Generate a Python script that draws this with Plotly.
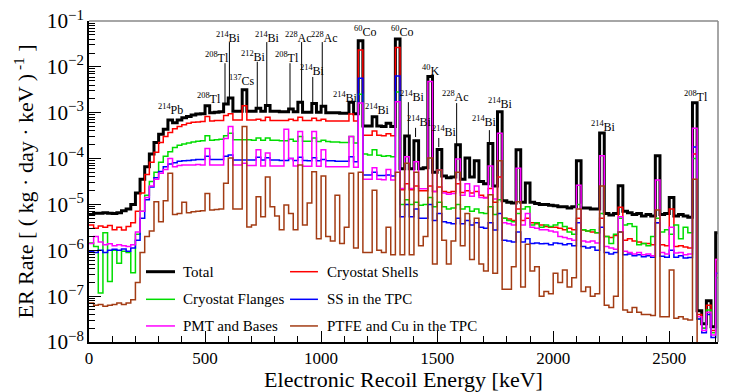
import plotly.graph_objects as go

# 20 keV bins from 0 to 2720 keV
BIN_WIDTH = 20
bin_edges = list(range(0, 2720 + BIN_WIDTH, BIN_WIDTH))

# log10 of ER rate per bin (10 bins = 200 keV per row)
total_log = [
    -5.22, -5.19, -5.19, -5.18, -5.19, -5.20, -5.18, -5.14, -5.10, -5.00,
    -4.75, -4.45, -4.18, -3.90, -3.65, -3.47, -3.36, -3.16, -3.22, -3.16,
    -3.11, -3.08, -3.05, -3.03, -3.02, -2.85, -3.00, -2.99, -2.98, -2.81,
    -2.68, -2.97, -2.97, -2.50, -2.97, -2.97, -2.90, -2.97, -2.84, -2.97,
    -2.97, -2.98, -2.98, -2.92, -2.98, -2.77, -2.99, -2.99, -2.80, -2.99,
    -2.86, -3.00, -3.00, -3.00, -3.01, -3.01, -2.77, -3.02, -1.43, -3.29,
    -3.29, -3.09, -3.29, -3.30, -3.23, -3.30, -1.39, -4.22, -3.51, -4.22,
    -3.61, -4.22, -4.20, -2.21, -4.30, -3.80, -4.38, -4.42, -4.40, -3.70,
    -4.45, -3.99, -4.40, -4.05, -4.50, -4.55, -3.67, -4.60, -2.98, -4.92,
    -4.95, -4.97, -3.81, -4.95, -4.53, -4.95, -4.98, -5.00, -5.00, -5.02,
    -5.03, -5.05, -5.05, -5.08, -5.05, -4.05, -5.08, -5.08, -5.10, -5.10,
    -3.44, -5.20, -5.23, -5.20, -4.59, -5.15, -5.18, -5.22, -5.20, -5.25,
    -5.22, -5.25, -3.94, -5.22, -5.20, -4.85, -5.25, -5.22, -5.25, -5.28,
    -2.78, -7.32, -7.60, -7.10, -7.67, -5.62,
]

shells_log = [
    -5.45, -5.52, -5.47, -5.50, -5.46, -5.55, -5.50, -5.56, -5.48, -5.40,
    -5.15, -4.75, -4.35, -4.08, -3.86, -3.65, -3.52, -3.43, -3.35, -3.30,
    -3.26, -3.23, -3.21, -3.20, -3.19, -3.08, -3.18, -3.17, -3.17, -3.06,
    -3.02, -3.16, -3.16, -2.85, -3.16, -3.16, -3.14, -3.17, -3.10, -3.17,
    -3.17, -3.17, -3.17, -3.14, -3.17, -3.10, -3.17, -3.17, -3.12, -3.17,
    -3.14, -3.18, -3.18, -3.18, -3.18, -3.18, -3.03, -3.18, -1.63, -3.49,
    -3.49, -3.40, -3.49, -3.50, -3.46, -3.50, -1.58, -4.68, -4.55, -4.68,
    -4.60, -4.70, -4.70, -4.60, -4.72, -4.62, -4.72, -4.74, -4.72, -4.55,
    -4.74, -4.70, -4.75, -4.72, -4.80, -4.85, -4.65, -4.95, -4.40, -5.30,
    -5.32, -5.35, -5.10, -5.35, -5.30, -5.40, -5.42, -5.45, -5.48, -5.50,
    -5.50, -5.52, -5.55, -5.52, -5.55, -5.30, -5.56, -5.58, -5.60, -5.62,
    -5.30, -5.70, -5.72, -5.68, -5.06, -5.78, -5.75, -5.80, -5.82, -5.85,
    -5.85, -5.88, -5.40, -5.88, -5.90, -5.10, -5.92, -5.90, -5.93, -5.95,
    -3.90, -7.40, -7.70, -7.20, -7.75, -6.20,
]

flanges_log = [
    -5.84, -5.92, -6.93, -5.62, -6.68, -6.00, -6.28, -6.02, -6.05, -6.49,
    -5.65, -5.15, -4.80, -4.50, -4.30, -4.08, -3.95, -3.85, -3.76, -3.71,
    -3.68, -3.66, -3.64, -3.62, -3.61, -3.50, -3.60, -3.59, -3.58, -3.50,
    -3.45, -3.59, -3.59, -3.59, -3.59, -3.60, -3.55, -3.60, -3.55, -3.60,
    -3.60, -3.61, -3.61, -3.58, -3.62, -3.52, -3.62, -3.62, -3.55, -3.63,
    -3.60, -3.63, -3.64, -3.64, -3.65, -3.65, -3.52, -3.66, -2.60, -3.90,
    -3.92, -3.81, -3.93, -3.95, -3.94, -3.96, -2.55, -5.00, -4.90, -5.00,
    -4.95, -5.02, -5.00, -4.85, -5.05, -4.95, -5.05, -5.10, -5.08, -5.00,
    -5.10, -5.05, -5.15, -5.10, -5.18, -5.20, -5.05, -5.22, -4.90, -5.30,
    -5.35, -5.38, -5.20, -5.10, -5.05, -5.45, -5.40, -5.50, -5.45, -5.48,
    -5.45, -5.40, -5.48, -5.60, -5.65, -5.00, -5.55, -5.58, -5.55, -5.62,
    -5.20, -5.70, -5.85, -5.65, -5.30, -5.45, -5.42, -5.48, -5.88, -5.85,
    -5.90, -5.70, -5.30, -5.60, -5.55, -5.65, -5.45, -5.75, -5.50, -5.62,
    -4.00, -7.50, -7.70, -7.30, -7.80, -6.60,
]

ss_tpc_log = [
    -6.03, -6.05, -6.00, -6.05, -6.00, -5.98, -6.00, -5.97, -6.02, -5.95,
    -5.78, -5.30, -4.90, -4.62, -4.42, -4.28, -4.18, -4.12, -4.09, -4.06,
    -4.05, -4.04, -4.03, -4.02, -4.02, -3.95, -4.02, -4.02, -4.02, -3.95,
    -3.92, -4.03, -4.03, -4.03, -4.03, -4.03, -3.97, -4.03, -3.98, -4.03,
    -4.03, -4.04, -4.04, -4.00, -4.04, -3.97, -4.04, -4.05, -3.98, -4.05,
    -4.02, -4.05, -4.05, -4.06, -4.06, -4.06, -3.96, -4.07, -2.25, -4.36,
    -4.36, -4.30, -4.37, -4.37, -4.36, -4.38, -2.20, -5.27, -5.00, -5.27,
    -5.10, -5.30, -5.30, -5.00, -5.35, -5.20, -5.38, -5.40, -5.42, -5.30,
    -5.42, -5.35, -5.45, -5.40, -5.50, -5.52, -5.40, -5.56, -5.20, -5.78,
    -5.80, -5.82, -5.60, -5.82, -5.75, -5.85, -5.84, -5.86, -5.85, -5.88,
    -5.84, -5.85, -5.88, -5.86, -5.90, -5.40, -5.92, -5.95, -5.93, -6.00,
    -5.50, -6.05, -6.08, -6.05, -5.60, -6.10, -6.08, -6.12, -6.10, -6.14,
    -6.12, -6.15, -5.40, -6.13, -6.15, -6.00, -6.15, -6.12, -6.17, -6.16,
    -3.75, -7.50, -7.80, -7.40, -7.90, -6.50,
]

pmt_log = [
    -5.85, -5.70, -5.82, -5.88, -5.86, -5.90, -5.88, -5.90, -5.92, -5.88,
    -5.60, -5.15, -4.85, -4.60, -4.45, -4.32, -4.24, -4.00, -4.18, -4.15,
    -4.14, -4.14, -4.14, -4.13, -4.14, -3.78, -4.14, -4.14, -4.14, -3.56,
    -3.30, -4.14, -4.14, -4.10, -4.15, -4.15, -3.81, -4.16, -3.88, -4.16,
    -4.16, -4.16, -3.36, -4.00, -4.16, -3.41, -4.17, -4.17, -3.41, -4.17,
    -3.81, -4.18, -4.18, -4.18, -4.18, -4.18, -3.52, -4.19, -2.79, -4.45,
    -4.45, -4.20, -4.45, -4.46, -4.24, -4.47, -2.76, -4.65, -3.96, -4.65,
    -4.07, -4.66, -4.66, -2.32, -4.72, -4.25, -4.75, -4.78, -4.76, -4.01,
    -4.80, -4.55, -4.82, -4.60, -4.85, -4.86, -4.16, -4.88, -3.45, -5.40,
    -5.42, -5.45, -4.21, -5.45, -5.20, -5.50, -5.52, -5.55, -5.55, -5.58,
    -5.60, -5.70, -5.72, -5.75, -5.78, -4.58, -5.80, -5.82, -5.80, -5.84,
    -3.94, -5.92, -5.95, -5.98, -5.27, -6.02, -6.05, -6.08, -6.05, -6.10,
    -6.08, -6.12, -4.47, -6.05, -6.08, -5.50, -6.06, -6.05, -6.10, -6.08,
    -3.34, -7.45, -7.75, -7.35, -7.85, -6.20,
]

ptfe_cu_log = [
    -7.15, -7.20, -7.18, -7.22, -7.20, -7.18, -7.15, -7.18, -7.15, -7.08,
    -6.70, -6.05, -5.70, -5.58, -4.94, -5.38, -4.92, -4.32, -5.22, -5.20,
    -4.95, -5.18, -5.16, -5.15, -5.14, -4.76, -5.12, -5.11, -5.10, -4.54,
    -3.99, -5.10, -5.10, -3.30, -5.49, -5.45, -4.83, -5.27, -4.40, -5.05,
    -5.25, -5.55, -5.01, -5.20, -5.55, -4.14, -5.45, -4.97, -4.29, -5.75,
    -4.38, -5.70, -5.80, -4.80, -5.85, -5.50, -4.32, -5.95, -4.30, -6.05,
    -6.05, -4.69, -6.00, -6.05, -5.50, -6.10, -4.30, -6.10, -4.10, -6.10,
    -4.30, -5.90, -5.70, -3.99, -6.30, -4.25, -5.78, -6.30, -5.80, -4.30,
    -5.90, -5.20, -6.20, -5.30, -6.30, -6.45, -4.79, -6.50, -4.05, -6.85,
    -6.85, -6.36, -4.94, -6.80, -5.87, -6.45, -6.36, -7.00, -6.90, -6.95,
    -6.50, -6.70, -6.43, -6.80, -6.60, -5.10, -6.90, -6.80, -7.00, -6.95,
    -4.60, -7.20, -7.25, -7.00, -5.60, -7.30, -7.35, -7.25, -7.35, -7.40,
    -7.40, -7.42, -5.12, -7.45, -7.45, -6.43, -7.48, -7.45, -7.50, -7.52,
    -4.45, -8.50, -8.50, -8.50, -8.50, -8.50,
]

series_names = ["Total", "Cryostat Shells", "Cryostat Flanges",
                "SS in the TPC", "PMT and Bases", "PTFE and Cu in the TPC"]
series_logs = [total_log, shells_log, flanges_log, ss_tpc_log, pmt_log, ptfe_cu_log]
series_colors = ["#000000", "#ff0000", "#00dd00", "#0000ff", "#ff00ff", "#a33c14"]
series_widths = [3, 1.5, 1.5, 1.5, 1.5, 1.5]

# peak labels: text, energy [keV], log10 height of label centre
peak_texts = ["214Pb", "208Tl", "208Tl", "214Bi", "137Cs", "212Bi", "214Bi", "208Tl",
              "228Ac", "214Bi", "228Ac", "214Bi", "60Co", "214Bi", "60Co", "40K",
              "214Bi", "214Bi", "214Bi", "228Ac", "214Bi", "214Bi", "214Bi", "208Tl"]
peak_label_e = [351, 517, 551, 603, 661, 707, 771, 853, 903, 961, 1015, 1107, 1189,
                1245, 1349, 1473, 1394, 1422, 1530, 1579, 1775, 1702, 2215, 2617]
peak_label_logy = [-2.94, -2.69, -1.80, -1.35, -2.29, -1.77, -1.35, -1.79, -1.35, -2.09,
                   -1.35, -2.66, -1.22, -2.94, -1.22, -2.07, -2.64, -3.20, -3.40, -2.64,
                   -2.79, -3.20, -3.29, -2.64]

# leader lines from labels down to peaks
leader_e = [586, 605, 725, 766, 866, 916, 964, 1005, 1376, 1407, 1507, 1584, 1725]
leader_top = [-1.92, -1.46, -1.89, -1.46, -1.92, -1.46, -2.22, -1.46, -2.77, -3.33,
              -3.55, -2.79, -3.38]
leader_bottom = [-2.81, -2.68, -2.90, -2.83, -2.92, -2.77, -2.81, -2.88, -3.51, -3.53,
                 -3.75, -3.70, -3.64]

FONT = "Liberation Serif, Times New Roman, Times, serif"

fig = go.Figure()

for name, logs, color, width in zip(series_names, series_logs, series_colors, series_widths):
    vals = [10 ** v for v in logs]
    fig.add_trace(go.Scatter(
        x=bin_edges, y=vals + [vals[-1]],
        mode="lines", line=dict(shape="hv", color=color, width=width),
        name=name, showlegend=False, hoverinfo="skip",
    ))

lx, ly = [], []
for e, t, b in zip(leader_e, leader_top, leader_bottom):
    lx += [e, e, None]
    ly += [10 ** t, 10 ** b, None]
fig.add_trace(go.Scatter(x=lx, y=ly, mode="lines", line=dict(color="black", width=1),
                         showlegend=False, hoverinfo="skip"))


def iso_label(t):
    # split "214Bi" into superscript mass number and element
    i = 0
    while t[i].isdigit():
        i += 1
    return "<sup>" + t[:i] + "</sup>" + t[i:]


annotations = []
for t, e, ylog in zip(peak_texts, peak_label_e, peak_label_logy):
    annotations.append(dict(x=e, y=ylog, xref="x", yref="y", text=iso_label(t),
                            showarrow=False, xanchor="center", yanchor="middle",
                            borderpad=0,
                            font=dict(family=FONT, size=12, color="black")))

# hand-placed two column legend
legend_cols = [(0.0906, 0.1367, 0.146), (0.3196, 0.364, 0.375)]
legend_rows = [0.219, 0.133, 0.050]
shapes = []
for k, name in enumerate(series_names):
    x0, x1, xt = legend_cols[k % 2]
    yy = legend_rows[k // 2]
    shapes.append(dict(type="line", xref="paper", yref="paper", x0=x0, x1=x1, y0=yy, y1=yy,
                       line=dict(color=series_colors[k], width=series_widths[k])))
    annotations.append(dict(x=xt, y=yy, xref="paper", yref="paper", text=name,
                            showarrow=False, xanchor="left", yanchor="middle",
                            font=dict(family=FONT, size=15, color="black")))

# grey top / right frame
shapes.append(dict(type="line", xref="paper", yref="paper", x0=0, x1=1, y0=1, y1=1,
                   line=dict(color="#888888", width=1.5), layer="above"))
shapes.append(dict(type="line", xref="paper", yref="paper", x0=1, x1=1, y0=0, y1=1,
                   line=dict(color="#888888", width=1.5), layer="above"))

fig.update_xaxes(
    range=[0, 2710], tick0=0, dtick=500, automargin=False,
    ticks="inside", ticklen=11, tickwidth=1, tickcolor="black",
    minor=dict(dtick=100, ticks="inside", ticklen=6, tickwidth=1, tickcolor="black"),
    showline=True, linecolor="black", linewidth=1.5,
    showgrid=False, zeroline=False,
    tickfont=dict(family=FONT, size=17, color="black"),
    title=dict(text="Electronic Recoil Energy [keV]", standoff=4,
               font=dict(family=FONT, size=22, color="black")),
)
fig.update_yaxes(
    type="log", range=[-8, -1], dtick=1, exponentformat="power", automargin=False,
    ticks="inside", ticklen=12, tickwidth=1, tickcolor="black",
    minor=dict(dtick="D1", ticks="inside", ticklen=6, tickwidth=1, tickcolor="black"),
    showline=True, linecolor="black", linewidth=1.5,
    showgrid=False, zeroline=False,
    tickfont=dict(family=FONT, size=17, color="black"),
    title=dict(text="ER Rate [ ( kg · day · keV )<sup> -1</sup> ]", standoff=7,
               font=dict(family=FONT, size=22, color="black")),
)

fig.update_layout(
    width=747, height=392,
    margin=dict(l=89, r=29, t=21, b=50),
    paper_bgcolor="white", plot_bgcolor="white",
    font=dict(family=FONT),
    showlegend=False,
    annotations=annotations,
    shapes=shapes,
)

# drop the default page margin so the figure sits at the window origin
fig.write_html("out.html", config={"displayModeBar": False},
               post_script="document.body.style.margin='0';")
